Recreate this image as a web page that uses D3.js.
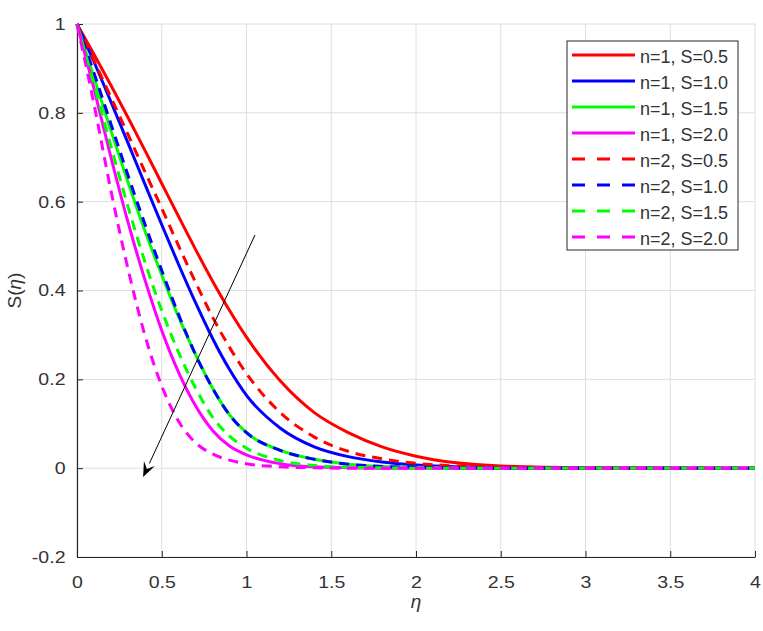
<!DOCTYPE html>
<html>
<head>
<meta charset="utf-8">
<script src="https://cdn.jsdelivr.net/npm/d3@7"></script>
<style>
  body { margin: 0; background: #fff; }
  text { font-family: "Liberation Sans", Arial, sans-serif; }
</style>
</head>
<body>
<svg id="chart" width="763" height="631"></svg>
<script>
// eta grid shared by every curve
const etaValues = [0, 0.1, 0.2, 0.3, 0.4, 0.5, 0.6, 0.7, 0.8, 0.9, 1.0, 1.2, 1.4, 1.6, 1.8, 2.0, 2.5, 3.0, 4.0];

const n1S05 = [1, 0.932, 0.862, 0.79, 0.716, 0.641, 0.566, 0.492, 0.421, 0.355, 0.295, 0.196, 0.125, 0.08, 0.048, 0.027, 0.005, 0.001, 0];
const n1S10 = [1, 0.915, 0.825, 0.733, 0.64, 0.548, 0.458, 0.372, 0.292, 0.222, 0.164, 0.09, 0.048, 0.026, 0.014, 0.007, 0.001, 0, 0];
const n1S15 = [1, 0.88, 0.76, 0.645, 0.535, 0.435, 0.34, 0.255, 0.18, 0.12, 0.08, 0.04, 0.02, 0.009, 0.004, 0.002, 0, 0, 0];
const n1S20 = [1, 0.855, 0.7, 0.555, 0.425, 0.31, 0.215, 0.14, 0.085, 0.05, 0.03, 0.01, 0.003, 0.001, 0, 0, 0, 0, 0];
const n2S05 = [1, 0.918, 0.835, 0.752, 0.668, 0.585, 0.5, 0.418, 0.34, 0.272, 0.213, 0.125, 0.07, 0.038, 0.021, 0.011, 0.002, 0, 0];
const n2S10 = [1, 0.89, 0.775, 0.66, 0.55, 0.445, 0.345, 0.255, 0.18, 0.12, 0.08, 0.04, 0.02, 0.009, 0.004, 0.002, 0, 0, 0];
const n2S15 = [1, 0.865, 0.725, 0.59, 0.465, 0.355, 0.26, 0.18, 0.115, 0.072, 0.045, 0.017, 0.006, 0.002, 0.001, 0, 0, 0, 0];
const n2S20 = [1, 0.82, 0.625, 0.45, 0.3, 0.185, 0.105, 0.057, 0.032, 0.018, 0.01, 0.003, 0.001, 0, 0, 0, 0, 0, 0];

const seriesLabels = ["n=1, S=0.5", "n=1, S=1.0", "n=1, S=1.5", "n=1, S=2.0",
                      "n=2, S=0.5", "n=2, S=1.0", "n=2, S=1.5", "n=2, S=2.0"];
const seriesValues = [n1S05, n1S10, n1S15, n1S20, n2S05, n2S10, n2S15, n2S20];
const seriesColors = ["#ff0000", "#0000ff", "#00ff00", "#ff00ff", "#ff0000", "#0000ff", "#00ff00", "#ff00ff"];
const seriesDashed = [false, false, false, false, true, true, true, true];

const xTicks = [0, 0.5, 1, 1.5, 2, 2.5, 3, 3.5, 4];
const yTicks = [-0.2, 0, 0.2, 0.4, 0.6, 0.8, 1];

// arrow: [eta, S] of tail and head
const arrowFrom = [1.05, 0.525];
const arrowTo = [0.39, -0.02];

const svg = d3.select("#chart");
const plotLeft = 77, plotRight = 755, plotTop = 24, plotBottom = 557;

const xScale = d3.scaleLinear().domain([0, 4]).range([plotLeft, plotRight]);
const yScale = d3.scaleLinear().domain([-0.2, 1]).range([plotBottom, plotTop]);

// grid
svg.append("g")
    .selectAll("line")
    .data(xTicks)
    .enter()
    .append("line")
    .attr("x1", d => xScale(d)).attr("x2", d => xScale(d))
    .attr("y1", plotTop).attr("y2", plotBottom)
    .attr("stroke", "#dedede").attr("stroke-width", 1);

svg.append("g")
    .selectAll("line")
    .data(yTicks)
    .enter()
    .append("line")
    .attr("x1", plotLeft).attr("x2", plotRight)
    .attr("y1", d => yScale(d)).attr("y2", d => yScale(d))
    .attr("stroke", "#dedede").attr("stroke-width", 1);

// axes
const xAxis = svg.append("g")
    .attr("transform", `translate(0,${plotBottom})`)
    .call(d3.axisBottom(xScale).tickValues(xTicks).tickFormat(d3.format("")).tickSizeInner(-6).tickSizeOuter(0).tickPadding(19));

const yAxis = svg.append("g")
    .attr("transform", `translate(${plotLeft},0)`)
    .call(d3.axisLeft(yScale).tickValues(yTicks).tickFormat(d3.format("")).tickSizeInner(-6).tickSizeOuter(0));

[xAxis, yAxis].forEach(ax => {
    ax.select(".domain").attr("stroke", "#262626").attr("stroke-width", 1.2);
    ax.selectAll(".tick line").attr("stroke", "#262626");
    ax.selectAll(".tick text")
        .attr("font-family", "Liberation Sans, Arial, sans-serif")
        .attr("font-size", 17)
        .attr("fill", "#333")
        .attr("transform", "scale(1.15,1)");
});
yAxis.selectAll(".tick text")
    .attr("x", -10)
    .text(d => d < 0 ? "-" + Math.abs(d) : d);

// curves
const line = d3.line()
    .x(d => xScale(d.x))
    .y(d => yScale(d.y))
    .curve(d3.curveMonotoneX);

seriesValues.forEach((vals, i) => {
    const pts = etaValues.map((x, j) => ({ x, y: vals[j] }));
    svg.append("path")
        .datum(pts)
        .attr("fill", "none")
        .attr("stroke", seriesColors[i])
        .attr("stroke-width", 3)
        .attr("stroke-dasharray", seriesDashed[i] ? "10,7" : null)
        .attr("d", line);
});

// arrow
const ax1 = xScale(arrowFrom[0]), ay1 = yScale(arrowFrom[1]);
const ax2 = xScale(arrowTo[0]), ay2 = yScale(arrowTo[1]);
const ang = Math.atan2(ay2 - ay1, ax2 - ax1);
const headLen = 15, headW = 6;
const bx = ax2 - headLen * Math.cos(ang), by = ay2 - headLen * Math.sin(ang);
svg.append("line")
    .attr("x1", ax1).attr("y1", ay1)
    .attr("x2", bx).attr("y2", by)
    .attr("stroke", "#000").attr("stroke-width", 1);
svg.append("path")
    .attr("d", `M${ax2},${ay2}L${bx + headW * Math.sin(ang)},${by - headW * Math.cos(ang)}L${ax2 - 0.6 * headLen * Math.cos(ang)},${ay2 - 0.6 * headLen * Math.sin(ang)}L${bx - headW * Math.sin(ang)},${by + headW * Math.cos(ang)}Z`)
    .attr("fill", "#000");

// axis labels
svg.append("text")
    .attr("x", xScale(2)).attr("y", 608)
    .attr("text-anchor", "middle")
    .attr("font-size", 19).attr("font-style", "italic")
    .attr("fill", "#333")
    .text("η");

svg.append("text")
    .attr("transform", `translate(21,${(plotTop + plotBottom) / 2}) rotate(-90)`)
    .attr("text-anchor", "middle")
    .attr("font-size", 19)
    .attr("fill", "#333")
    .html('S(<tspan font-style="italic">η</tspan>)');

// legend
const legend = svg.append("g");
legend.append("rect")
    .attr("x", 567).attr("y", 41)
    .attr("width", 171).attr("height", 209)
    .attr("fill", "#fff").attr("stroke", "#262626").attr("stroke-width", 1);

seriesLabels.forEach((label, i) => {
    const y = 55 + i * 26;
    legend.append("line")
        .attr("x1", 572).attr("x2", 635)
        .attr("y1", y).attr("y2", y)
        .attr("stroke", seriesColors[i])
        .attr("stroke-width", 3)
        .attr("stroke-dasharray", seriesDashed[i] ? "13,12" : null);
    legend.append("text")
        .attr("x", 640).attr("y", y + 8)
        .attr("font-size", 18)
        .attr("fill", "#333")
        .text(label);
});
</script>
</body>
</html>
